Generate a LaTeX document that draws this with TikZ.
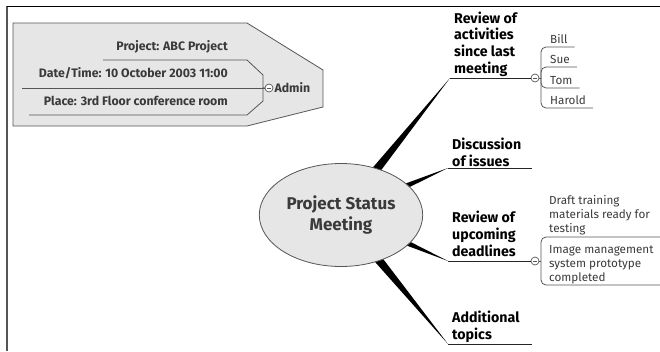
\documentclass[tikz,border=0pt]{standalone}
\usepackage{fontspec}
\setmainfont{Fira Sans}
\usetikzlibrary{shapes.geometric,calc,positioning,backgrounds}

\definecolor{boxgray}{HTML}{E6E6E6}
\definecolor{linegray}{HTML}{555555}
\definecolor{textgray}{HTML}{3A3A3A}

\tikzset{
  centre/.style={ellipse, draw=linegray, fill=boxgray, line width=0.8pt, minimum width=152pt, minimum height=103pt, align=center, text=textgray, font=\bfseries\fontsize{17}{20.5}\selectfont},
  topic/.style={anchor=base west, align=left, inner sep=0pt, font=\bfseries\fontsize{14.2}{16.6}\selectfont},
  subtopic/.style={anchor=base west, align=left, inner sep=0pt, text=textgray, font=\fontsize{11.7}{13.8}\selectfont},
  admintext/.style={anchor=base east, align=right, inner sep=0pt, text=textgray, font=\bfseries\fontsize{12.3}{13}\selectfont},
  knob/.style={circle, draw=linegray, fill=white, line width=0.7pt, inner sep=0pt, minimum size=8pt,
    path picture={\draw [linegray, line width=0.7pt] ([xshift=-2pt]path picture bounding box.center) -- ([xshift=2pt]path picture bounding box.center);}},
  uline/.style={draw=black!85, line width=0.8pt},
  subline/.style={draw=linegray, line width=0.8pt, rounded corners=5pt}
}

\begin{document}
\begin{tikzpicture}[x=1pt,y=-1pt]
        \useasboundingbox (0,0) rectangle (660,351);
        % Rahmen
        \draw [linegray, line width=1.6pt] (7,351) -- (7,6);
        \draw [black, line width=0.8pt] (7,6) -- (660,6);
        % Admin
        \draw [draw=linegray, fill=boxgray, line width=0.8pt] (13,23) -- (247,23) -- (323,70) -- (323,107) -- (247,126) -- (13,126) -- cycle;
        \node [knob] (admknob) at (269,88) {};
        \node [anchor=west, inner sep=1pt, text=textgray, font=\bfseries\fontsize{12.3}{13}\selectfont] (admin) at (admknob.east) {Admin};
        \node [admintext] (project) at (228,50) {Project: ABC Project};
        \node [admintext] (datetime) at (228,77) {Date/Time: 10 October 2003 11:00};
        \node [admintext] (place) at (228,105) {Place: 3rd Floor conference room};
        \draw [subline, rounded corners=0pt] (103,60) -- (247,60) -- (263,75) |- (admknob.west);
        \draw [subline, rounded corners=0pt] (22,88) -- (admknob.west);
        \draw [subline, rounded corners=0pt] (29,115) -- (247,115) -- (263,101) |- (admknob.west);
        % Zentrum
        \node [centre] (psm) at (341,215) {Project Status\\Meeting};
        \coordinate (r1) at (450,78);
        \coordinate (r2) at (448,168);
        \coordinate (r3) at (448,261);
        \coordinate (r4) at (448,344);
        \coordinate (e2) at (532,168);
        \coordinate (e4) at (532,344);
        \node [knob] (k1) at (535,78) {};
        \node [knob] (k3) at (535,261) {};
        % Keile
        \begin{scope}[on background layer]
        \path ($(psm.52)!-4pt!(r1)$) coordinate (b1);
        \path ($(psm.24)!-4pt!(r2)$) coordinate (b2);
        \path ($(psm.-23)!-4pt!(r3)$) coordinate (b3);
        \path ($(psm.-50)!-4pt!(r4)$) coordinate (b4);
        \fill ($(b1)!4.2pt!90:(r1)$) -- (r1) -- ($(b1)!4.2pt!-90:(r1)$) -- cycle;
        \fill ($(b2)!2.6pt!90:(r2)$) -- (r2) -- ($(b2)!2.6pt!-90:(r2)$) -- cycle;
        \fill ($(b3)!2.6pt!90:(r3)$) -- (r3) -- ($(b3)!2.6pt!-90:(r3)$) -- cycle;
        \fill ($(b4)!4.2pt!90:(r4)$) -- (r4) -- ($(b4)!4.2pt!-90:(r4)$) -- cycle;
        \end{scope}
        % Themen
        \node [topic] (review) at (454,73) {Review of\\activities\\since last\\meeting};
        \node [topic] (discussion) at (452,166) {Discussion\\of issues};
        \node [topic] (deadlines) at (452,256) {Review of\\upcoming\\deadlines};
        \node [topic] (additional) at (452,339) {Additional\\topics};
        \draw [uline] (r1) -- (k1);
        \draw [uline] (r2) -- (e2);
        \draw [uline] (r3) -- (k3);
        \draw [uline] (r4) -- (e4);
        % Namen
        \coordinate (s1) at (541,78);
        \draw [subline] (k1) -- (s1);
        \node [subtopic] (bill) at (550,43) {Bill};
        \node [subtopic] (sue) at (550,63) {Sue};
        \node [subtopic] (tom) at (550,84) {Tom};
        \node [subtopic] (harold) at (550,104) {Harold};
        \draw [subline] (s1) |- ($(bill.base east)+(7,4)$);
        \draw [subline] (s1) |- ($(sue.base east)+(7,4)$);
        \draw [subline] (s1) |- ($(tom.base east)+(7,4)$);
        \draw [subline] (s1) |- ($(harold.base east)+(7,4)$);
        % Termine
        \coordinate (s3) at (541,261);
        \coordinate (d1) at (660,237);
        \coordinate (d2) at (660,285);
        \draw [subline] (k3) -- (s3);
        \node [subtopic] (draft) at (549,232) {Draft training\\materials ready for\\testing};
        \node [subtopic] (image) at (549,281) {Image management\\system prototype\\completed};
        \draw [subline] (s3) |- (d1);
        \draw [subline] (s3) |- (d2);
\end{tikzpicture}
\end{document}
